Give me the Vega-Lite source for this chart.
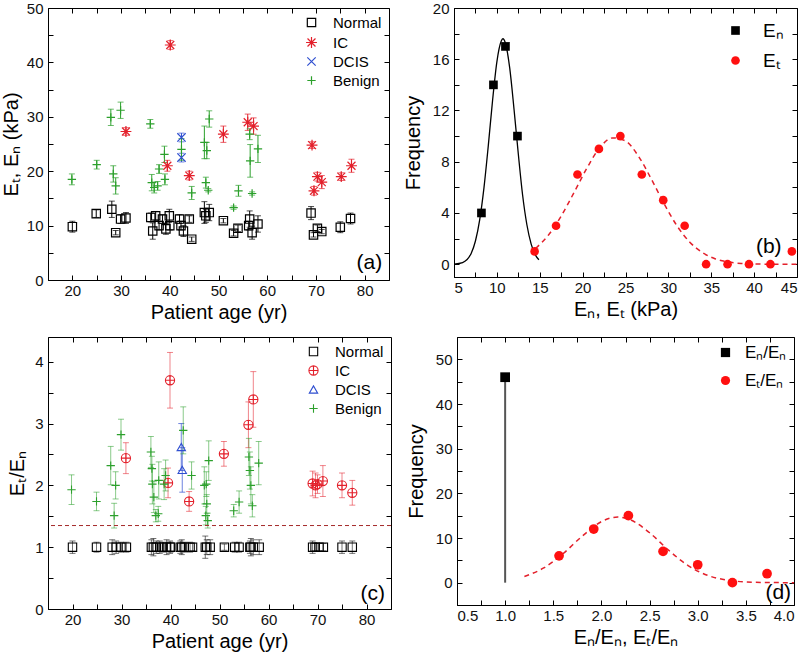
{
  "$schema": "https://vega.github.io/schema/vega-lite/v6.json",
  "background": "white",
  "padding": {"left": 0, "top": 0, "right": 0, "bottom": 2},
  "config": {
    "font": "Liberation Sans",
    "view": {"stroke": "#000", "strokeWidth": 1},
    "axis": {"grid": false, "domainColor": "#000", "domainWidth": 1, "tickColor": "#000", "tickWidth": 1,
             "labelFontSize": 15, "labelColor": "#111", "titleFontSize": 20, "titleFontWeight": "normal",
             "titleColor": "#000", "labelPadding": 10, "titlePadding": 4, "labelFont": "Liberation Sans", "titleFont": "Liberation Sans"},
    "axisX": {"labelPadding": 8},
    "legend": {"labelFont": "Liberation Sans", "labelColor": "#000", "padding": 0}
  },
  "resolve": {"scale": {"color": "independent", "shape": "independent"}, "legend": {"color": "independent", "shape": "independent"}},
  "datasets": {
    "pa": [
      {"age": 20.0, "E": 9.8, "err": 1.0, "g": "Normal"},
      {"age": 24.9, "E": 12.2, "err": 0.7, "g": "Normal"},
      {"age": 28.1, "E": 13.0, "err": 1.5, "g": "Normal"},
      {"age": 28.9, "E": 8.7, "err": 0.4, "g": "Normal"},
      {"age": 29.9, "E": 11.2, "err": 0.8, "g": "Normal"},
      {"age": 31.0, "E": 11.4, "err": 1.0, "g": "Normal"},
      {"age": 36.1, "E": 11.5, "err": 0.8, "g": "Normal"},
      {"age": 36.5, "E": 9.0, "err": 1.5, "g": "Normal"},
      {"age": 37.1, "E": 11.8, "err": 0.8, "g": "Normal"},
      {"age": 37.8, "E": 10.0, "err": 0.8, "g": "Normal"},
      {"age": 38.5, "E": 11.2, "err": 0.8, "g": "Normal"},
      {"age": 39.2, "E": 9.4, "err": 1.0, "g": "Normal"},
      {"age": 39.9, "E": 11.8, "err": 1.2, "g": "Normal"},
      {"age": 40.0, "E": 10.0, "err": 0.8, "g": "Normal"},
      {"age": 42.0, "E": 11.2, "err": 0.8, "g": "Normal"},
      {"age": 42.3, "E": 10.0, "err": 0.8, "g": "Normal"},
      {"age": 42.8, "E": 9.0, "err": 1.0, "g": "Normal"},
      {"age": 44.0, "E": 11.2, "err": 0.6, "g": "Normal"},
      {"age": 44.5, "E": 7.5, "err": 0.4, "g": "Normal"},
      {"age": 47.1, "E": 12.4, "err": 2.0, "g": "Normal"},
      {"age": 47.4, "E": 11.8, "err": 1.2, "g": "Normal"},
      {"age": 48.1, "E": 12.4, "err": 1.5, "g": "Normal"},
      {"age": 51.0, "E": 10.9, "err": 0.4, "g": "Normal"},
      {"age": 53.1, "E": 8.6, "err": 0.5, "g": "Normal"},
      {"age": 54.0, "E": 9.5, "err": 0.6, "g": "Normal"},
      {"age": 56.4, "E": 11.2, "err": 1.5, "g": "Normal"},
      {"age": 56.2, "E": 10.0, "err": 0.8, "g": "Normal"},
      {"age": 56.9, "E": 8.7, "err": 1.2, "g": "Normal"},
      {"age": 58.1, "E": 10.3, "err": 1.5, "g": "Normal"},
      {"age": 69.0, "E": 12.3, "err": 1.2, "g": "Normal"},
      {"age": 69.5, "E": 8.3, "err": 0.4, "g": "Normal"},
      {"age": 70.3, "E": 9.5, "err": 0.6, "g": "Normal"},
      {"age": 71.2, "E": 8.9, "err": 0.4, "g": "Normal"},
      {"age": 75.0, "E": 9.7, "err": 1.0, "g": "Normal"},
      {"age": 77.1, "E": 11.3, "err": 1.0, "g": "Normal"},
      {"age": 40.1, "E": 43.2, "err": 0.8, "g": "IC"},
      {"age": 31.0, "E": 27.3, "err": 0.7, "g": "IC"},
      {"age": 51.0, "E": 26.8, "err": 1.5, "g": "IC"},
      {"age": 56.0, "E": 29.0, "err": 1.5, "g": "IC"},
      {"age": 57.2, "E": 28.3, "err": 1.5, "g": "IC"},
      {"age": 69.2, "E": 24.8, "err": 0.6, "g": "IC"},
      {"age": 39.5, "E": 21.0, "err": 1.0, "g": "IC"},
      {"age": 44.0, "E": 19.2, "err": 0.8, "g": "IC"},
      {"age": 70.3, "E": 19.0, "err": 0.8, "g": "IC"},
      {"age": 71.2, "E": 18.0, "err": 1.2, "g": "IC"},
      {"age": 69.6, "E": 16.4, "err": 0.8, "g": "IC"},
      {"age": 75.2, "E": 19.0, "err": 0.7, "g": "IC"},
      {"age": 77.3, "E": 21.0, "err": 1.2, "g": "IC"},
      {"age": 42.4, "E": 26.2, "err": 0.8, "g": "DCIS"},
      {"age": 42.4, "E": 22.5, "err": 0.8, "g": "DCIS"},
      {"age": 19.9, "E": 18.5, "err": 1.0, "g": "Benign"},
      {"age": 25.0, "E": 21.2, "err": 0.8, "g": "Benign"},
      {"age": 27.9, "E": 29.9, "err": 1.5, "g": "Benign"},
      {"age": 29.9, "E": 31.2, "err": 1.5, "g": "Benign"},
      {"age": 28.4, "E": 19.5, "err": 1.5, "g": "Benign"},
      {"age": 28.9, "E": 17.3, "err": 1.5, "g": "Benign"},
      {"age": 36.0, "E": 28.7, "err": 0.8, "g": "Benign"},
      {"age": 36.3, "E": 17.9, "err": 1.5, "g": "Benign"},
      {"age": 36.8, "E": 17.0, "err": 1.0, "g": "Benign"},
      {"age": 37.5, "E": 17.3, "err": 0.8, "g": "Benign"},
      {"age": 37.8, "E": 20.4, "err": 0.8, "g": "Benign"},
      {"age": 38.9, "E": 23.1, "err": 1.5, "g": "Benign"},
      {"age": 39.0, "E": 18.5, "err": 1.0, "g": "Benign"},
      {"age": 42.4, "E": 24.0, "err": 2.0, "g": "Benign"},
      {"age": 47.1, "E": 25.3, "err": 3.0, "g": "Benign"},
      {"age": 47.6, "E": 23.8, "err": 1.5, "g": "Benign"},
      {"age": 48.1, "E": 29.6, "err": 1.5, "g": "Benign"},
      {"age": 47.4, "E": 17.9, "err": 1.0, "g": "Benign"},
      {"age": 47.9, "E": 16.5, "err": 0.3, "g": "Benign"},
      {"age": 44.5, "E": 16.0, "err": 1.2, "g": "Benign"},
      {"age": 53.1, "E": 13.3, "err": 0.3, "g": "Benign"},
      {"age": 54.1, "E": 16.4, "err": 1.0, "g": "Benign"},
      {"age": 56.4, "E": 26.8, "err": 1.0, "g": "Benign"},
      {"age": 56.5, "E": 21.9, "err": 3.0, "g": "Benign"},
      {"age": 56.9, "E": 15.9, "err": 0.3, "g": "Benign"},
      {"age": 58.1, "E": 24.1, "err": 2.5, "g": "Benign"}
    ],
    "pc": [
      {"age": 20.0, "R": 1.0, "err": 0.1, "g": "Normal"},
      {"age": 24.9, "R": 1.0, "err": 0.08, "g": "Normal"},
      {"age": 28.1, "R": 1.0, "err": 0.12, "g": "Normal"},
      {"age": 28.9, "R": 1.0, "err": 0.1, "g": "Normal"},
      {"age": 29.9, "R": 1.0, "err": 0.08, "g": "Normal"},
      {"age": 31.0, "R": 1.0, "err": 0.08, "g": "Normal"},
      {"age": 36.1, "R": 1.0, "err": 0.12, "g": "Normal"},
      {"age": 36.5, "R": 1.0, "err": 0.14, "g": "Normal"},
      {"age": 37.1, "R": 1.0, "err": 0.1, "g": "Normal"},
      {"age": 37.8, "R": 1.0, "err": 0.1, "g": "Normal"},
      {"age": 38.5, "R": 1.0, "err": 0.08, "g": "Normal"},
      {"age": 39.2, "R": 1.0, "err": 0.12, "g": "Normal"},
      {"age": 39.9, "R": 1.0, "err": 0.1, "g": "Normal"},
      {"age": 40.0, "R": 1.0, "err": 0.08, "g": "Normal"},
      {"age": 42.0, "R": 1.0, "err": 0.1, "g": "Normal"},
      {"age": 42.3, "R": 1.0, "err": 0.12, "g": "Normal"},
      {"age": 42.8, "R": 1.0, "err": 0.08, "g": "Normal"},
      {"age": 44.0, "R": 1.0, "err": 0.08, "g": "Normal"},
      {"age": 44.5, "R": 1.0, "err": 0.06, "g": "Normal"},
      {"age": 47.1, "R": 1.0, "err": 0.18, "g": "Normal"},
      {"age": 47.4, "R": 1.0, "err": 0.12, "g": "Normal"},
      {"age": 48.1, "R": 1.0, "err": 0.12, "g": "Normal"},
      {"age": 51.0, "R": 1.0, "err": 0.05, "g": "Normal"},
      {"age": 53.1, "R": 1.0, "err": 0.08, "g": "Normal"},
      {"age": 54.0, "R": 1.0, "err": 0.08, "g": "Normal"},
      {"age": 56.4, "R": 1.0, "err": 0.14, "g": "Normal"},
      {"age": 56.2, "R": 1.0, "err": 0.1, "g": "Normal"},
      {"age": 56.9, "R": 1.0, "err": 0.12, "g": "Normal"},
      {"age": 58.1, "R": 1.0, "err": 0.12, "g": "Normal"},
      {"age": 69.0, "R": 1.0, "err": 0.1, "g": "Normal"},
      {"age": 69.5, "R": 1.0, "err": 0.06, "g": "Normal"},
      {"age": 70.3, "R": 1.0, "err": 0.06, "g": "Normal"},
      {"age": 71.2, "R": 1.0, "err": 0.06, "g": "Normal"},
      {"age": 75.0, "R": 1.0, "err": 0.1, "g": "Normal"},
      {"age": 77.1, "R": 1.0, "err": 0.1, "g": "Normal"},
      {"age": 39.9, "R": 3.70, "err": 0.45, "g": "IC"},
      {"age": 30.9, "R": 2.44, "err": 0.25, "g": "IC"},
      {"age": 50.9, "R": 2.51, "err": 0.2, "g": "IC"},
      {"age": 55.9, "R": 2.98, "err": 0.37, "g": "IC"},
      {"age": 56.9, "R": 3.39, "err": 0.45, "g": "IC"},
      {"age": 39.5, "R": 2.04, "err": 0.24, "g": "IC"},
      {"age": 43.8, "R": 1.74, "err": 0.16, "g": "IC"},
      {"age": 69.0, "R": 2.03, "err": 0.2, "g": "IC"},
      {"age": 69.6, "R": 2.0, "err": 0.2, "g": "IC"},
      {"age": 70.0, "R": 2.02, "err": 0.15, "g": "IC"},
      {"age": 71.1, "R": 2.07, "err": 0.25, "g": "IC"},
      {"age": 75.0, "R": 2.0, "err": 0.2, "g": "IC"},
      {"age": 77.1, "R": 1.88, "err": 0.2, "g": "IC"},
      {"age": 42.2, "R": 2.62, "err": 0.38, "g": "DCIS"},
      {"age": 42.4, "R": 2.25, "err": 0.36, "g": "DCIS"},
      {"age": 19.8, "R": 1.93, "err": 0.24, "g": "Benign"},
      {"age": 24.9, "R": 1.74, "err": 0.15, "g": "Benign"},
      {"age": 27.8, "R": 2.32, "err": 0.31, "g": "Benign"},
      {"age": 28.8, "R": 2.0, "err": 0.22, "g": "Benign"},
      {"age": 28.5, "R": 1.51, "err": 0.2, "g": "Benign"},
      {"age": 29.9, "R": 2.82, "err": 0.25, "g": "Benign"},
      {"age": 36.0, "R": 2.54, "err": 0.25, "g": "Benign"},
      {"age": 36.3, "R": 2.02, "err": 0.32, "g": "Benign"},
      {"age": 36.2, "R": 2.27, "err": 0.2, "g": "Benign"},
      {"age": 36.6, "R": 1.81, "err": 0.25, "g": "Benign"},
      {"age": 37.0, "R": 1.51, "err": 0.1, "g": "Benign"},
      {"age": 37.5, "R": 1.54, "err": 0.12, "g": "Benign"},
      {"age": 37.6, "R": 2.08, "err": 0.3, "g": "Benign"},
      {"age": 38.7, "R": 2.02, "err": 0.25, "g": "Benign"},
      {"age": 39.0, "R": 2.16, "err": 0.25, "g": "Benign"},
      {"age": 42.6, "R": 2.89, "err": 0.38, "g": "Benign"},
      {"age": 44.3, "R": 2.16, "err": 0.22, "g": "Benign"},
      {"age": 46.9, "R": 2.0, "err": 0.3, "g": "Benign"},
      {"age": 47.3, "R": 2.02, "err": 0.2, "g": "Benign"},
      {"age": 47.8, "R": 2.40, "err": 0.32, "g": "Benign"},
      {"age": 47.2, "R": 1.51, "err": 0.15, "g": "Benign"},
      {"age": 47.6, "R": 1.43, "err": 0.12, "g": "Benign"},
      {"age": 47.4, "R": 1.70, "err": 0.15, "g": "Benign"},
      {"age": 52.9, "R": 1.59, "err": 0.1, "g": "Benign"},
      {"age": 54.0, "R": 1.73, "err": 0.18, "g": "Benign"},
      {"age": 56.0, "R": 2.46, "err": 0.3, "g": "Benign"},
      {"age": 56.2, "R": 2.24, "err": 0.3, "g": "Benign"},
      {"age": 56.4, "R": 2.0, "err": 0.3, "g": "Benign"},
      {"age": 56.7, "R": 1.67, "err": 0.18, "g": "Benign"},
      {"age": 58.0, "R": 2.36, "err": 0.35, "g": "Benign"}
    ],
    "pb": [
      {"x": 8.2, "f": 4, "s": "Eₙ"},
      {"x": 9.6, "f": 14, "s": "Eₙ"},
      {"x": 11.0, "f": 17, "s": "Eₙ"},
      {"x": 12.4, "f": 10, "s": "Eₙ"},
      {"x": 14.4, "f": 1, "s": "Eₜ"},
      {"x": 16.9, "f": 3, "s": "Eₜ"},
      {"x": 19.4, "f": 7, "s": "Eₜ"},
      {"x": 21.9, "f": 9, "s": "Eₜ"},
      {"x": 24.4, "f": 10, "s": "Eₜ"},
      {"x": 26.9, "f": 7, "s": "Eₜ"},
      {"x": 29.4, "f": 5, "s": "Eₜ"},
      {"x": 31.9, "f": 3, "s": "Eₜ"},
      {"x": 34.4, "f": 0, "s": "Eₜ"},
      {"x": 36.9, "f": 0, "s": "Eₜ"},
      {"x": 39.4, "f": 0, "s": "Eₜ"},
      {"x": 41.9, "f": 0, "s": "Eₜ"},
      {"x": 44.4, "f": 1, "s": "Eₜ"}
    ],
    "cbn": [
      {"x": 5.0, "f": 0.01}, {"x": 6.0, "f": 0.13}, {"x": 7.0, "f": 0.84}, {"x": 7.5, "f": 1.81},
      {"x": 8.0, "f": 3.48}, {"x": 8.5, "f": 6.0}, {"x": 9.0, "f": 9.26}, {"x": 9.5, "f": 12.8},
      {"x": 10.0, "f": 15.8}, {"x": 10.5, "f": 17.4}, {"x": 10.7, "f": 17.6}, {"x": 11.0, "f": 17.25},
      {"x": 11.5, "f": 15.3}, {"x": 12.0, "f": 12.1}, {"x": 12.5, "f": 8.6}, {"x": 13.0, "f": 5.4},
      {"x": 13.5, "f": 3.08}, {"x": 14.0, "f": 1.57}, {"x": 14.5, "f": 0.71}, {"x": 14.9, "f": 0.35}
    ],
    "cbt": [
      {"x": 14.5, "f": 1.23}, {"x": 16.0, "f": 2.26}, {"x": 17.5, "f": 3.76}, {"x": 19.0, "f": 5.6},
      {"x": 20.5, "f": 7.5}, {"x": 22.0, "f": 9.1}, {"x": 23.5, "f": 9.86}, {"x": 25.0, "f": 9.62},
      {"x": 26.5, "f": 8.44}, {"x": 28.0, "f": 6.66}, {"x": 29.5, "f": 4.72}, {"x": 31.0, "f": 3.0},
      {"x": 32.5, "f": 1.72}, {"x": 34.0, "f": 0.89}, {"x": 35.5, "f": 0.41}, {"x": 37.0, "f": 0.17},
      {"x": 38.5, "f": 0.06}, {"x": 40.0, "f": 0.02}, {"x": 42.0, "f": 0.0}, {"x": 45.0, "f": 0.0}
    ],
    "pd": [
      {"x": 1.0, "f": 46, "s": "Eₙ/Eₙ"},
      {"x": 1.56, "f": 6, "s": "Eₜ/Eₙ"},
      {"x": 1.92, "f": 12, "s": "Eₜ/Eₙ"},
      {"x": 2.28, "f": 15, "s": "Eₜ/Eₙ"},
      {"x": 2.64, "f": 7, "s": "Eₜ/Eₙ"},
      {"x": 3.0, "f": 4, "s": "Eₜ/Eₙ"},
      {"x": 3.36, "f": 0, "s": "Eₜ/Eₙ"},
      {"x": 3.72, "f": 2, "s": "Eₜ/Eₙ"}
    ],
    "cd": [
      {"x": 1.2, "f": 1.37}, {"x": 1.4, "f": 3.29}, {"x": 1.6, "f": 6.47}, {"x": 1.8, "f": 10.4},
      {"x": 2.0, "f": 13.67}, {"x": 2.17, "f": 14.7}, {"x": 2.3, "f": 14.08}, {"x": 2.5, "f": 11.17},
      {"x": 2.7, "f": 7.23}, {"x": 2.9, "f": 3.83}, {"x": 3.1, "f": 1.66}, {"x": 3.3, "f": 0.59},
      {"x": 3.5, "f": 0.17}, {"x": 3.7, "f": 0.04}, {"x": 4.0, "f": 0.0}
    ]
  },
  "spacing": 13,
  "vconcat": [
    {
      "spacing": 12,
      "resolve": {"scale": {"color": "independent", "shape": "independent"}, "legend": {"color": "independent", "shape": "independent"}},
      "hconcat": [
        {
          "width": 341, "height": 272,
          "resolve": {"axis": {"x": "independent", "y": "independent"}},
          "layer": [
            {
              "data": {"name": "pa"},
              "transform": [{"filter": "datum.g === 'Normal'"}],
              "mark": {"type": "errorbar", "ticks": {"size": 6}, "thickness": 1, "color": "#000000"},
              "encoding": {
                "x": {"field": "age", "type": "quantitative",
                      "scale": {"domain": [15, 85], "nice": false, "zero": false},
                      "axis": {"title": "Patient age (yr)", "values": [20,25,30,35,40,45,50,55,60,65,70,75,80],
                               "labelExpr": "datum.value % 10 === 0 ? datum.label : ''",
                               "tickSize": -5, "orient": "bottom"}},
                "y": {"field": "E", "type": "quantitative",
                      "scale": {"domain": [0, 50], "nice": false, "zero": false},
                      "axis": {"title": "Eₜ, Eₙ (kPa)", "values": [0,5,10,15,20,25,30,35,40,45,50],
                               "labelExpr": "datum.value % 10 === 0 ? datum.label : ''",
                               "tickSize": -5, "minExtent": 23, "titlePadding": 4, "orient": "left"}},
                "yError": {"field": "err"}
              }
            },
            {
              "data": {"name": "pa"},
              "transform": [{"filter": "datum.g === 'IC'"}],
              "mark": {"type": "errorbar", "ticks": {"size": 6}, "thickness": 1, "color": "#e3202b"},
              "encoding": {
                "x": {"field": "age", "type": "quantitative", "axis": null},
                "y": {"field": "E", "type": "quantitative", "axis": null},
                "yError": {"field": "err"}
              }
            },
            {
              "data": {"name": "pa"},
              "transform": [{"filter": "datum.g === 'DCIS'"}],
              "mark": {"type": "errorbar", "ticks": {"size": 6}, "thickness": 1, "color": "#2f4fd0"},
              "encoding": {
                "x": {"field": "age", "type": "quantitative", "axis": null},
                "y": {"field": "E", "type": "quantitative", "axis": null},
                "yError": {"field": "err"}
              }
            },
            {
              "data": {"name": "pa"},
              "transform": [{"filter": "datum.g === 'Benign'"}],
              "mark": {"type": "errorbar", "ticks": {"size": 6}, "thickness": 1, "color": "#2ca02c"},
              "encoding": {
                "x": {"field": "age", "type": "quantitative", "axis": null},
                "y": {"field": "E", "type": "quantitative", "axis": null},
                "yError": {"field": "err"}
              }
            },
            {
              "data": {"name": "pa"},
              "mark": {"type": "point", "filled": false, "strokeWidth": 1.2, "size": 70, "opacity": 1},
              "encoding": {
                "x": {"field": "age", "type": "quantitative", "axis": null},
                "y": {"field": "E", "type": "quantitative", "axis": null},
                "color": {"field": "g", "type": "nominal",
                          "scale": {"domain": ["Normal", "IC", "DCIS", "Benign"], "range": ["#000000", "#e3202b", "#2f4fd0", "#2ca02c"]},
                          "legend": {"title": null, "orient": "top-right", "offset": 7, "labelFontSize": 15, "symbolSize": 70, "rowPadding": 3, "labelOffset": 14, "symbolStrokeWidth": 1.2}},
                "shape": {"field": "g", "type": "nominal",
                          "scale": {"domain": ["Normal", "IC", "DCIS", "Benign"],
                                    "range": ["square", "M-1.3,0L1.3,0M0,-1.3L0,1.3M-0.95,-0.95L0.95,0.95M-0.95,0.95L0.95,-0.95", "M-1,-1L1,1M-1,1L1,-1", "M-1,0L1,0M0,-1L0,1"]},
                          "legend": {"title": null, "orient": "top-right", "offset": 7, "labelFontSize": 15, "symbolSize": 70, "rowPadding": 3, "labelOffset": 14, "symbolStrokeWidth": 1.2}}
              }
            },
            {
              "data": {"values": [{"t": "(a)", "x": 83.6, "y": 1.2}]},
              "mark": {"type": "text", "align": "right", "baseline": "bottom", "fontSize": 21, "font": "Liberation Sans"},
              "encoding": {
                "x": {"field": "x", "type": "quantitative",
                      "axis": {"orient": "top", "labels": false, "domain": false, "title": null, "tickSize": -5, "minExtent": 0,
                               "values": [20,25,30,35,40,45,50,55,60,65,70,75,80]}},
                "y": {"field": "y", "type": "quantitative",
                      "axis": {"orient": "right", "labels": false, "domain": false, "title": null, "tickSize": -5, "minExtent": 0,
                               "values": [0,5,10,15,20,25,30,35,40,45,50]}},
                "text": {"field": "t"}}
            }
          ]
        },
        {
          "width": 343, "height": 269,
          "resolve": {"axis": {"x": "independent", "y": "independent"}},
          "layer": [
            {
              "data": {"name": "cbn"},
              "mark": {"type": "line", "color": "#000", "strokeWidth": 1.3, "interpolate": "monotone"},
              "encoding": {
                "x": {"field": "x", "type": "quantitative",
                      "scale": {"domain": [5, 45], "nice": false, "zero": false},
                      "axis": {"title": "Eₙ, Eₜ (kPa)", "values": [5,7.5,10,12.5,15,17.5,20,22.5,25,27.5,30,32.5,35,37.5,40,42.5,45],
                               "labelExpr": "datum.value % 5 === 0 ? datum.label : ''",
                               "tickSize": -5, "orient": "bottom"}},
                "y": {"field": "f", "type": "quantitative",
                      "scale": {"domain": [-1, 20], "nice": false, "zero": false},
                      "axis": {"title": "Frequency", "values": [0,2,4,6,8,10,12,14,16,18,20],
                               "labelExpr": "datum.value % 4 === 0 ? datum.label : ''",
                               "tickSize": -5, "minExtent": 24, "titlePadding": 7, "orient": "left"}}
              }
            },
            {
              "data": {"name": "cbt"},
              "mark": {"type": "line", "color": "#e3202b", "strokeWidth": 1.5, "strokeDash": [5, 4], "interpolate": "monotone"},
              "encoding": {
                "x": {"field": "x", "type": "quantitative", "axis": null},
                "y": {"field": "f", "type": "quantitative", "axis": null}
              }
            },
            {
              "data": {"name": "pb"},
              "mark": {"type": "point", "filled": true, "size": 75, "opacity": 1},
              "encoding": {
                "x": {"field": "x", "type": "quantitative", "axis": null},
                "y": {"field": "f", "type": "quantitative", "axis": null},
                "color": {"field": "s", "type": "nominal", "scale": {"domain": ["Eₙ", "Eₜ"], "range": ["#000000", "#ff1010"]},
                          "legend": {"title": null, "orient": "top-right", "offset": 13, "labelFontSize": 19, "symbolSize": 75, "rowPadding": 10, "labelOffset": 18}},
                "shape": {"field": "s", "type": "nominal", "scale": {"domain": ["Eₙ", "Eₜ"], "range": ["square", "circle"]},
                          "legend": {"title": null, "orient": "top-right", "offset": 13, "labelFontSize": 19, "symbolSize": 75, "rowPadding": 10, "labelOffset": 18}}
              }
            },
            {
              "data": {"values": [{"t": "(b)", "x": 43.2, "y": 0.6}]},
              "mark": {"type": "text", "align": "right", "baseline": "bottom", "fontSize": 21, "font": "Liberation Sans"},
              "encoding": {
                "x": {"field": "x", "type": "quantitative",
                      "axis": {"orient": "top", "labels": false, "domain": false, "title": null, "tickSize": -5, "minExtent": 0,
                               "values": [5,7.5,10,12.5,15,17.5,20,22.5,25,27.5,30,32.5,35,37.5,40,42.5,45]}},
                "y": {"field": "y", "type": "quantitative",
                      "axis": {"orient": "right", "labels": false, "domain": false, "title": null, "tickSize": -5, "minExtent": 0,
                               "values": [0,2,4,6,8,10,12,14,16,18,20]}},
                "text": {"field": "t"}}
            }
          ]
        }
      ]
    },
    {
      "spacing": 13,
      "resolve": {"scale": {"color": "independent", "shape": "independent"}, "legend": {"color": "independent", "shape": "independent"}},
      "hconcat": [
        {
          "width": 343, "height": 272,
          "resolve": {"axis": {"x": "independent", "y": "independent"}},
          "layer": [
            {
              "data": {"name": "pc"},
              "transform": [{"filter": "datum.g === 'Normal'"}],
              "mark": {"type": "errorbar", "ticks": {"size": 6}, "thickness": 1, "opacity": 0.55, "color": "#000000"},
              "encoding": {
                "x": {"field": "age", "type": "quantitative",
                      "scale": {"domain": [15, 85], "nice": false, "zero": false},
                      "axis": {"title": "Patient age (yr)", "values": [20,25,30,35,40,45,50,55,60,65,70,75,80],
                               "labelExpr": "datum.value % 10 === 0 ? datum.label : ''",
                               "tickSize": -5, "orient": "bottom"}},
                "y": {"field": "R", "type": "quantitative",
                      "scale": {"domain": [0, 4.4], "nice": false, "zero": false},
                      "axis": {"title": "Eₜ/Eₙ", "values": [0,0.5,1,1.5,2,2.5,3,3.5,4],
                               "labelExpr": "datum.value % 1 === 0 ? format(datum.value, 'd') : ''",
                               "tickSize": -5, "minExtent": 17, "titlePadding": 4, "orient": "left"}},
                "yError": {"field": "err"}
              }
            },
            {
              "data": {"name": "pc"},
              "transform": [{"filter": "datum.g === 'IC'"}],
              "mark": {"type": "errorbar", "ticks": {"size": 6}, "thickness": 1, "opacity": 0.55, "color": "#e3202b"},
              "encoding": {
                "x": {"field": "age", "type": "quantitative", "axis": null},
                "y": {"field": "R", "type": "quantitative", "axis": null},
                "yError": {"field": "err"}
              }
            },
            {
              "data": {"name": "pc"},
              "transform": [{"filter": "datum.g === 'DCIS'"}],
              "mark": {"type": "errorbar", "ticks": {"size": 6}, "thickness": 1, "opacity": 0.7, "color": "#2f4fd0"},
              "encoding": {
                "x": {"field": "age", "type": "quantitative", "axis": null},
                "y": {"field": "R", "type": "quantitative", "axis": null},
                "yError": {"field": "err"}
              }
            },
            {
              "data": {"name": "pc"},
              "transform": [{"filter": "datum.g === 'Benign'"}],
              "mark": {"type": "errorbar", "ticks": {"size": 6}, "thickness": 1, "opacity": 0.55, "color": "#2ca02c"},
              "encoding": {
                "x": {"field": "age", "type": "quantitative", "axis": null},
                "y": {"field": "R", "type": "quantitative", "axis": null},
                "yError": {"field": "err"}
              }
            },
            {
              "data": {"values": [{"y": 1.35}]},
              "mark": {"type": "rule", "color": "#a52a2a", "strokeWidth": 1, "strokeDash": [4, 3]},
              "encoding": {"y": {"field": "y", "type": "quantitative", "axis": null}}
            },
            {
              "data": {"name": "pc"},
              "mark": {"type": "point", "filled": false, "strokeWidth": 1.1, "size": 70, "opacity": 1},
              "encoding": {
                "x": {"field": "age", "type": "quantitative", "axis": null},
                "y": {"field": "R", "type": "quantitative", "axis": null},
                "color": {"field": "g", "type": "nominal",
                          "scale": {"domain": ["Normal", "IC", "DCIS", "Benign"], "range": ["#000000", "#e3202b", "#2f4fd0", "#2ca02c"]},
                          "legend": {"title": null, "orient": "top-right", "offset": 7, "labelFontSize": 15, "symbolSize": 70, "rowPadding": 3, "labelOffset": 14, "symbolStrokeWidth": 1.1}},
                "shape": {"field": "g", "type": "nominal",
                          "scale": {"domain": ["Normal", "IC", "DCIS", "Benign"],
                                    "range": ["square", "M-1.1,0A1.1,1.1,0,1,1,1.1,0A1.1,1.1,0,1,1,-1.1,0ZM-1.1,0L1.1,0M0,-1.1L0,1.1", "triangle-up", "M-1,0L1,0M0,-1L0,1"]},
                          "legend": {"title": null, "orient": "top-right", "offset": 7, "labelFontSize": 15, "symbolSize": 70, "rowPadding": 3, "labelOffset": 14, "symbolStrokeWidth": 1.1}}
              }
            },
            {
              "data": {"values": [{"t": "(c)", "x": 83.8, "y": 0.08}]},
              "mark": {"type": "text", "align": "right", "baseline": "bottom", "fontSize": 21, "font": "Liberation Sans"},
              "encoding": {
                "x": {"field": "x", "type": "quantitative",
                      "axis": {"orient": "top", "labels": false, "domain": false, "title": null, "tickSize": -5, "minExtent": 0,
                               "values": [20,25,30,35,40,45,50,55,60,65,70,75,80]}},
                "y": {"field": "y", "type": "quantitative",
                      "axis": {"orient": "right", "labels": false, "domain": false, "title": null, "tickSize": -5, "minExtent": 0,
                               "values": [0,0.5,1,1.5,2,2.5,3,3.5,4]}},
                "text": {"field": "t"}}
            }
          ]
        },
        {
          "width": 337, "height": 268,
          "resolve": {"axis": {"x": "independent", "y": "independent"}},
          "layer": [
            {
              "data": {"values": [{"x": 1.0, "f": 46, "lo": 0}]},
              "mark": {"type": "rule", "color": "#555555", "strokeWidth": 2},
              "encoding": {
                "x": {"field": "x", "type": "quantitative",
                      "scale": {"domain": [0.5, 4.0], "nice": false, "zero": false},
                      "axis": {"title": "Eₙ/Eₙ, Eₜ/Eₙ", "values": [0.5,0.75,1,1.25,1.5,1.75,2,2.25,2.5,2.75,3,3.25,3.5,3.75,4],
                               "labelExpr": "(datum.value * 2) % 1 === 0 ? format(datum.value, '.1f') : ''",
                               "tickSize": -5, "orient": "bottom"}},
                "y": {"field": "lo", "type": "quantitative",
                      "scale": {"domain": [-5, 55], "nice": false, "zero": false},
                      "axis": {"title": "Frequency", "values": [0,5,10,15,20,25,30,35,40,45,50],
                               "labelExpr": "datum.value % 10 === 0 ? datum.label : ''",
                               "tickSize": -5, "minExtent": 24, "titlePadding": 7, "orient": "left"}},
                "y2": {"field": "f"}
              }
            },
            {
              "data": {"name": "cd"},
              "mark": {"type": "line", "color": "#e3202b", "strokeWidth": 1.5, "strokeDash": [5, 4], "interpolate": "monotone"},
              "encoding": {
                "x": {"field": "x", "type": "quantitative", "axis": null},
                "y": {"field": "f", "type": "quantitative", "axis": null}
              }
            },
            {
              "data": {"name": "pd"},
              "mark": {"type": "point", "filled": true, "opacity": 1, "size": 95},
              "encoding": {
                "x": {"field": "x", "type": "quantitative", "axis": null},
                "y": {"field": "f", "type": "quantitative", "axis": null},
                "color": {"field": "s", "type": "nominal", "scale": {"domain": ["Eₙ/Eₙ", "Eₜ/Eₙ"], "range": ["#000000", "#ff1010"]},
                          "legend": {"title": null, "orient": "top-right", "offset": 7, "labelFontSize": 17, "symbolSize": 85, "rowPadding": 10, "labelOffset": 11}},
                "shape": {"field": "s", "type": "nominal", "scale": {"domain": ["Eₙ/Eₙ", "Eₜ/Eₙ"], "range": ["square", "circle"]},
                          "legend": {"title": null, "orient": "top-right", "offset": 7, "labelFontSize": 17, "symbolSize": 85, "rowPadding": 10, "labelOffset": 11}}
              }
            },
            {
              "data": {"values": [{"t": "(d)", "x": 3.97, "y": -4.6}]},
              "mark": {"type": "text", "align": "right", "baseline": "bottom", "fontSize": 21, "font": "Liberation Sans"},
              "encoding": {
                "x": {"field": "x", "type": "quantitative",
                      "axis": {"orient": "top", "labels": false, "domain": false, "title": null, "tickSize": -5, "minExtent": 0,
                               "values": [0.5,0.75,1,1.25,1.5,1.75,2,2.25,2.5,2.75,3,3.25,3.5,3.75,4]}},
                "y": {"field": "y", "type": "quantitative",
                      "axis": {"orient": "right", "labels": false, "domain": false, "title": null, "tickSize": -5, "minExtent": 0,
                               "values": [0,5,10,15,20,25,30,35,40,45,50]}},
                "text": {"field": "t"}}
            }
          ]
        }
      ]
    }
  ]
}
